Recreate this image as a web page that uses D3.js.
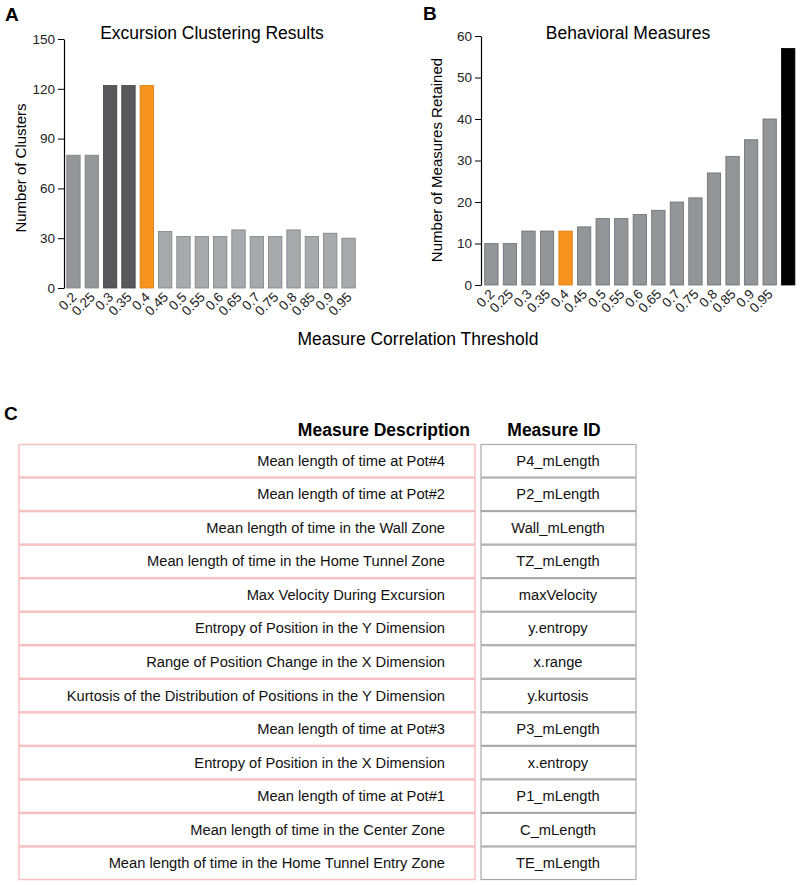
<!DOCTYPE html>
<html>
<head>
<meta charset="utf-8">
<script src="https://cdn.jsdelivr.net/npm/d3@7"></script>
<style>
  body { margin: 0; background: #fff; }
  svg { font-family: "Liberation Sans", Arial, Helvetica, sans-serif; }
</style>
</head>
<body>
<svg width="800" height="885"></svg>
<script>
// panel A / B thresholds
const thresholds = "0.2,0.25,0.3,0.35,0.4,0.45,0.5,0.55,0.6,0.65,0.7,0.75,0.8,0.85,0.9,0.95".split(",");
const clusters = [80, 80, 122, 122, 122, 34, 31, 31, 31, 35, 31, 31, 35, 31, 33, 30];
// last bar in B is all measures (no label)
const measureCats = thresholds.concat(["all"]);
const measuresRetained = [10, 10, 13, 13, 13, 14, 16, 16, 17, 18, 20, 21, 27, 31, 35, 40, 57];
const ticksA = [0, 30, 60, 90, 120, 150];
const ticksB = [0, 10, 20, 30, 40, 50, 60];

// panel C table
const descriptions = [
  "Mean length of time at Pot#4",
  "Mean length of time at Pot#2",
  "Mean length of time in the Wall Zone",
  "Mean length of time in the Home Tunnel Zone",
  "Max Velocity During Excursion",
  "Entropy of Position in the Y Dimension",
  "Range of Position Change in the X Dimension",
  "Kurtosis of the Distribution of Positions in the Y Dimension",
  "Mean length of time at Pot#3",
  "Entropy of Position in the X Dimension",
  "Mean length of time at Pot#1",
  "Mean length of time in the Center Zone",
  "Mean length of time in the Home Tunnel Entry Zone"
];
const measureIds = [
  "P4_mLength", "P2_mLength", "Wall_mLength", "TZ_mLength", "maxVelocity",
  "y.entropy", "x.range", "y.kurtosis", "P3_mLength", "x.entropy",
  "P1_mLength", "C_mLength", "TE_mLength"
];

const svg = d3.select("svg");

// colour of each bar
function colorA(d, i) {
  if (thresholds[i] === "0.4") return "#f7941d";
  if (d >= 100) return "#58585a";
  return i < 2 ? "#959698" : "#a7a9ac";
}
function strokeA(d, i) {
  if (thresholds[i] === "0.4") return "#d77a12";
  if (d >= 100) return "#444446";
  return "#7f8082";
}

// ---------- panel A ----------
const xA = d3.scaleBand().domain(thresholds).range([64, 358]).paddingInner(0.27).paddingOuter(0.15);
const yA = d3.scaleLinear().domain([0, 150]).range([288, 39]);

svg.append("g")
  .attr("transform", "translate(64,0)")
  .call(d3.axisLeft(yA).tickValues(ticksA).tickSize(6).tickSizeOuter(0))
  .call(g => g.selectAll("text").style("font-size", "13.5px").attr("fill", "#222"))
  .call(g => g.select(".domain").attr("stroke-width", 1.2));

svg.selectAll(".barA")
  .data(clusters)
  .enter()
  .append("rect")
  .attr("class", "barA")
  .attr("x", (d, i) => xA(thresholds[i]))
  .attr("y", d => yA(d))
  .attr("width", xA.bandwidth())
  .attr("height", d => yA(0) - yA(d))
  .attr("fill", colorA)
  .attr("stroke", strokeA)
  .attr("stroke-width", 0.8);

svg.selectAll(".labA")
  .data(thresholds)
  .enter()
  .append("text")
  .attr("class", "labA")
  .attr("transform", d => `translate(${xA(d) + xA.bandwidth() / 2 + 4},${yA(0) + 10}) rotate(-45)`)
  .attr("text-anchor", "end")
  .style("font-size", "13.5px")
  .attr("fill", "#222")
  .text(d => d);

svg.append("text")
  .attr("x", 212).attr("y", 39)
  .attr("text-anchor", "middle")
  .style("font-size", "17.5px")
  .text("Excursion Clustering Results");

svg.append("text")
  .attr("transform", "rotate(-90)")
  .attr("x", -168).attr("y", 26)
  .attr("text-anchor", "middle")
  .style("font-size", "15px")
  .text("Number of Clusters");

// ---------- panel B ----------
const xB = d3.scaleBand().domain(measureCats).range([481, 798.6]).paddingInner(0.28).paddingOuter(0.2);
const yB = d3.scaleLinear().domain([0, 60]).range([285, 36]);

svg.append("g")
  .attr("transform", "translate(481,0)")
  .call(d3.axisLeft(yB).tickValues(ticksB).tickSize(6).tickSizeOuter(0))
  .call(g => g.selectAll("text").style("font-size", "13.5px").attr("fill", "#222"))
  .call(g => g.select(".domain").attr("stroke-width", 1.2));

svg.selectAll(".barB")
  .data(measuresRetained)
  .enter()
  .append("rect")
  .attr("class", "barB")
  .attr("x", (d, i) => xB(measureCats[i]))
  .attr("y", d => yB(d))
  .attr("width", xB.bandwidth())
  .attr("height", d => yB(0) - yB(d))
  .attr("fill", (d, i) => measureCats[i] === "all" ? "#000" : measureCats[i] === "0.4" ? "#f7941d" : "#939598")
  .attr("stroke", (d, i) => measureCats[i] === "all" ? "#000" : measureCats[i] === "0.4" ? "#d77a12" : "#6d6e70")
  .attr("stroke-width", 0.8);

svg.selectAll(".labB")
  .data(thresholds)
  .enter()
  .append("text")
  .attr("class", "labB")
  .attr("transform", d => `translate(${xB(d) + xB.bandwidth() / 2 + 4},${yB(0) + 10}) rotate(-45)`)
  .attr("text-anchor", "end")
  .style("font-size", "13.5px")
  .attr("fill", "#222")
  .text(d => d);

svg.append("text")
  .attr("x", 628).attr("y", 39)
  .attr("text-anchor", "middle")
  .style("font-size", "17.5px")
  .text("Behavioral Measures");

svg.append("text")
  .attr("transform", "rotate(-90)")
  .attr("x", -160).attr("y", 442)
  .attr("text-anchor", "middle")
  .style("font-size", "15px")
  .text("Number of Measures Retained");

// shared x label
svg.append("text")
  .attr("x", 418).attr("y", 345)
  .attr("text-anchor", "middle")
  .style("font-size", "17.5px")
  .text("Measure Correlation Threshold");

// panel letters
[["A", 5, 21], ["B", 423, 20], ["C", 4, 420]].forEach(p => {
  svg.append("text")
    .attr("x", p[1]).attr("y", p[2])
    .style("font-size", "19px")
    .style("font-weight", "bold")
    .text(p[0]);
});

// ---------- panel C ----------
const rowY = d3.scaleBand().domain(d3.range(descriptions.length)).range([444, 880]);

svg.append("text")
  .attr("x", 470).attr("y", 436)
  .attr("text-anchor", "end")
  .style("font-size", "17.5px").style("font-weight", "bold")
  .text("Measure Description");
svg.append("text")
  .attr("x", 554).attr("y", 436)
  .attr("text-anchor", "middle")
  .style("font-size", "17.5px").style("font-weight", "bold")
  .text("Measure ID");

const rows = svg.selectAll(".row")
  .data(descriptions)
  .enter()
  .append("g")
  .attr("class", "row")
  .attr("transform", (d, i) => `translate(0,${rowY(i)})`);

rows.append("rect")
  .attr("x", 19).attr("y", 0.5)
  .attr("width", 456).attr("height", rowY.bandwidth() - 1)
  .attr("fill", "none")
  .attr("stroke", "#f7c0c0")
  .attr("stroke-width", 1.5);

rows.append("rect")
  .attr("x", 481).attr("y", 0.5)
  .attr("width", 155).attr("height", rowY.bandwidth() - 1)
  .attr("fill", "none")
  .attr("stroke", "#a9a9a9")
  .attr("stroke-width", 1.2);

rows.append("text")
  .attr("x", 445).attr("y", rowY.bandwidth() / 2 + 5)
  .attr("text-anchor", "end")
  .style("font-size", "14.7px")
  .attr("fill", "#111")
  .text(d => d);

rows.append("text")
  .attr("x", 558).attr("y", rowY.bandwidth() / 2 + 5)
  .attr("text-anchor", "middle")
  .style("font-size", "14.7px")
  .attr("fill", "#111")
  .text((d, i) => measureIds[i]);
</script>
</body>
</html>
